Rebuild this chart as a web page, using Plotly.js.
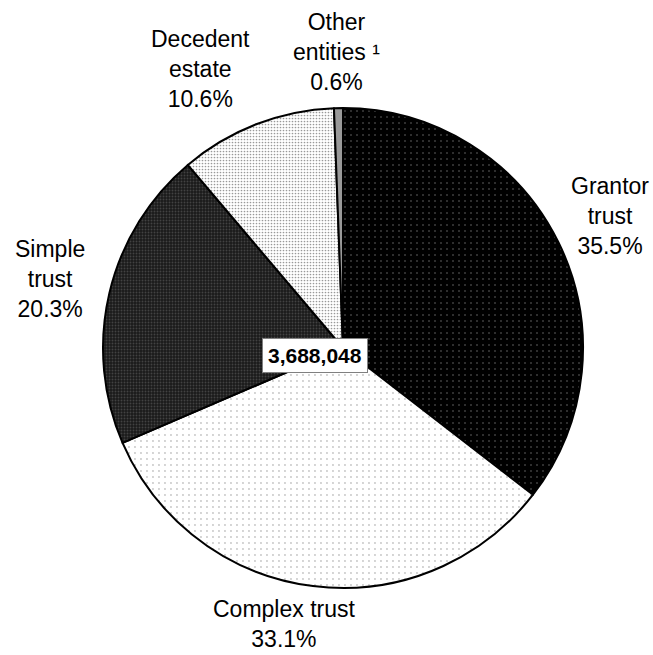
<!DOCTYPE html>
<html>
<head>
<meta charset="utf-8">
<script src="https://cdn.plot.ly/plotly-3.0.1.min.js"></script>
<style>html,body{margin:0;padding:0;background:#fff;}#chart{width:653px;height:655px;}</style>
</head>
<body>
<div id="chart"></div>
<script>
// Data (clockwise from 12 o'clock)
const categories = ["Grantor trust", "Complex trust", "Simple trust", "Decedent estate", "Other entities ¹"];
const labelLines = [["Grantor", "trust"], ["Complex trust"], ["Simple", "trust"], ["Decedent", "estate"], ["Other", "entities ¹"]];
const shares = [35.5, 33.1, 20.3, 10.6, 0.6];
const totalReturns = 3688048;

const trace = {
  type: "pie",
  labels: categories,
  values: shares,
  sort: false,
  direction: "clockwise",
  rotation: 0,
  textinfo: "none",
  hoverinfo: "label+percent",
  marker: {
    colors: ["#000000", "#ffffff", "#262626", "#ffffff", "#999999"],
    line: {color: "#000000", width: 2},
    pattern: {
      shape: [".", ".", ".", ".", ""],
      bgcolor: ["#000000", "#ffffff", "#1a1a1a", "#ffffff", "#999999"],
      fgcolor: ["#ffffff", "#8c8c8c", "#6a6a6a", "#333333", "#999999"],
      size: [6, 6, 3, 3, 4],
      solidity: [0.04, 0.08, 0.3, 0.25, 0.1],
      fillmode: "overlay"
    }
  },
  showlegend: false
};

const M = {l: 103, r: 70, t: 107, b: 66};
const W = 653, H = 655;
const PW = W - M.l - M.r, PH = H - M.t - M.b;
const px = x => (x - M.l) / PW;
const py = y => 1 - (y - M.t) / PH;

const font = {family: "Liberation Sans, Arial, sans-serif", size: 23, color: "#000"};
const pos = [
  {x: 610, y: 216},
  {x: 284, y: 624},
  {x: 50, y: 279},
  {x: 200, y: 69},
  {x: 336, y: 52}
];
const annotations = categories.map((c, i) => ({
  xref: "paper", yref: "paper",
  x: px(pos[i].x), y: py(pos[i].y),
  xanchor: "center", yanchor: "middle",
  text: labelLines[i].join("<br>") + "<br>" + shares[i].toFixed(1) + "%",
  showarrow: false, align: "center", font: font
}));
annotations.push({
  xref: "paper", yref: "paper",
  x: px(315), y: py(355),
  xanchor: "center", yanchor: "middle",
  text: "<b>" + totalReturns.toLocaleString("en-US") + "</b>",
  showarrow: false,
  font: {family: "Liberation Sans, Arial, sans-serif", size: 21, color: "#000"},
  bgcolor: "#ffffff", bordercolor: "#808080", borderwidth: 1, borderpad: 5
});

const layout = {
  width: W, height: H,
  margin: M,
  paper_bgcolor: "#ffffff",
  annotations: annotations
};
Plotly.newPlot("chart", [trace], layout, {displayModeBar: false, staticPlot: true});
</script>
</body>
</html>
